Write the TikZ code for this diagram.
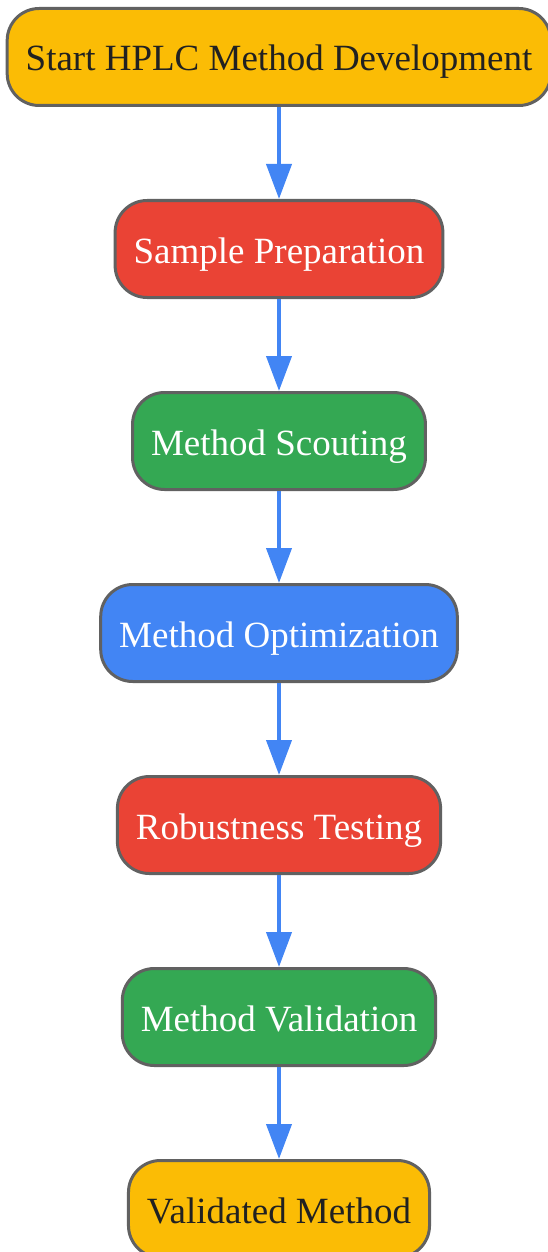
\documentclass[tikz,border=0pt]{standalone}
\usepackage{fontspec}
\setmainfont{Liberation Serif}
\usetikzlibrary{shapes,arrows.meta,positioning}
\usepackage{xcolor}
\definecolor{gyellow}{HTML}{FBBC05}
\definecolor{gred}{HTML}{EA4335}
\definecolor{ggreen}{HTML}{34A853}
\definecolor{gblue}{HTML}{4285F4}
\definecolor{gborder}{HTML}{616161}
\definecolor{gtext}{HTML}{212121}

\begin{document}
\begin{tikzpicture}[x=1pt, y=1pt]
    % Стилі
    \tikzstyle{stage}=[draw=gborder, line width=3pt, rounded corners=32pt, minimum height=97pt, inner xsep=18.5pt, text height=34pt, text depth=6pt, font=\fontsize{37}{44}\selectfont, text=white]
    \tikzstyle{flow}=[draw=gblue, line width=4pt, -{Triangle[width=25pt, length=35pt]}]
    \useasboundingbox (0,0) rectangle (548,-1252);

    % Етапи
    \node[stage, fill=gyellow, text=gtext] (start) at (279,-57) {Start HPLC Method Development};
    \node[stage, fill=gred] (prep) at (279,-249) {Sample Preparation};
    \node[stage, fill=ggreen] (scout) at (279,-441) {Method Scouting};
    \node[stage, fill=gblue] (optim) at (279,-633) {Method Optimization};
    \node[stage, fill=gred] (robust) at (279,-825) {Robustness Testing};
    \node[stage, fill=ggreen] (valid) at (279,-1017) {Method Validation};
    \node[stage, fill=gyellow, text=gtext] (done) at (279,-1209) {Validated Method};

    % Зв'язки
    \draw[flow] (start) -- (prep);
    \draw[flow] (prep) -- (scout);
    \draw[flow] (scout) -- (optim);
    \draw[flow] (optim) -- (robust);
    \draw[flow] (robust) -- (valid);
    \draw[flow] (valid) -- (done);
\end{tikzpicture}
\end{document}
